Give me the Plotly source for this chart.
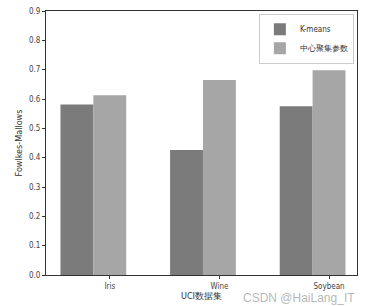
import plotly.graph_objects as go

categories = ["Iris", "Wine", "Soybean"]
series_names = ["K-means", "中心聚集参数"]
kmeans_vals = [0.581, 0.426, 0.575]
center_vals = [0.613, 0.665, 0.698]
y_ticks = [0.0, 0.1, 0.2, 0.3, 0.4, 0.5, 0.6, 0.7, 0.8, 0.9]

font_family = "DejaVu Sans Condensed, Liberation Sans Narrow, sans-serif"

fig = go.Figure()
fig.add_trace(go.Bar(
    x=categories, y=kmeans_vals, name=series_names[0],
    width=0.3, offset=-0.45,
    marker=dict(color="#7b7b7b", line=dict(width=0)),
))
fig.add_trace(go.Bar(
    x=categories, y=center_vals, name=series_names[1],
    width=0.3, offset=-0.15,
    marker=dict(color="#a6a6a6", line=dict(width=0)),
))

fig.update_layout(
    width=365, height=306,
    margin=dict(l=46, r=7, t=10, b=30),
    paper_bgcolor="white", plot_bgcolor="white",
    barmode="overlay",
    font=dict(family=font_family, size=8, color="#444"),
    showlegend=True,
    legend=dict(
        x=0.99, y=0.99, xanchor="right", yanchor="top",
        bgcolor="white", bordercolor="#cccccc", borderwidth=1,
        font=dict(size=8, color="#333"),
        itemwidth=30, tracegroupgap=0,
    ),
    xaxis=dict(
        type="category", range=[-0.582, 2.255],
        showline=True, linecolor="#333", linewidth=1, mirror=True,
        ticks="outside", ticklen=3, tickcolor="#333",
        showgrid=False,
        title=dict(text="UCI数据集", font=dict(size=9, color="#333"), standoff=2),
        tickfont=dict(size=8, color="#444"),
    ),
    yaxis=dict(
        range=[0, 0.9], tickvals=y_ticks, tickformat=".1f",
        showline=True, linecolor="#333", linewidth=1, mirror=True,
        ticks="outside", ticklen=3, tickcolor="#333",
        showgrid=False, zeroline=False,
        title=dict(text="Fowlkes-Mallows", font=dict(size=9, color="#333"), standoff=4),
        tickfont=dict(size=8, color="#444"),
    ),
)

fig.add_annotation(
    text="CSDN @HaiLang_IT", xref="paper", yref="paper",
    x=1.0, y=-0.053, xanchor="right", yanchor="top",
    showarrow=False,
    font=dict(size=12, color="rgba(150,150,150,0.7)", family="Liberation Sans, Arial, sans-serif"),
)

fig.write_html("out.html")
